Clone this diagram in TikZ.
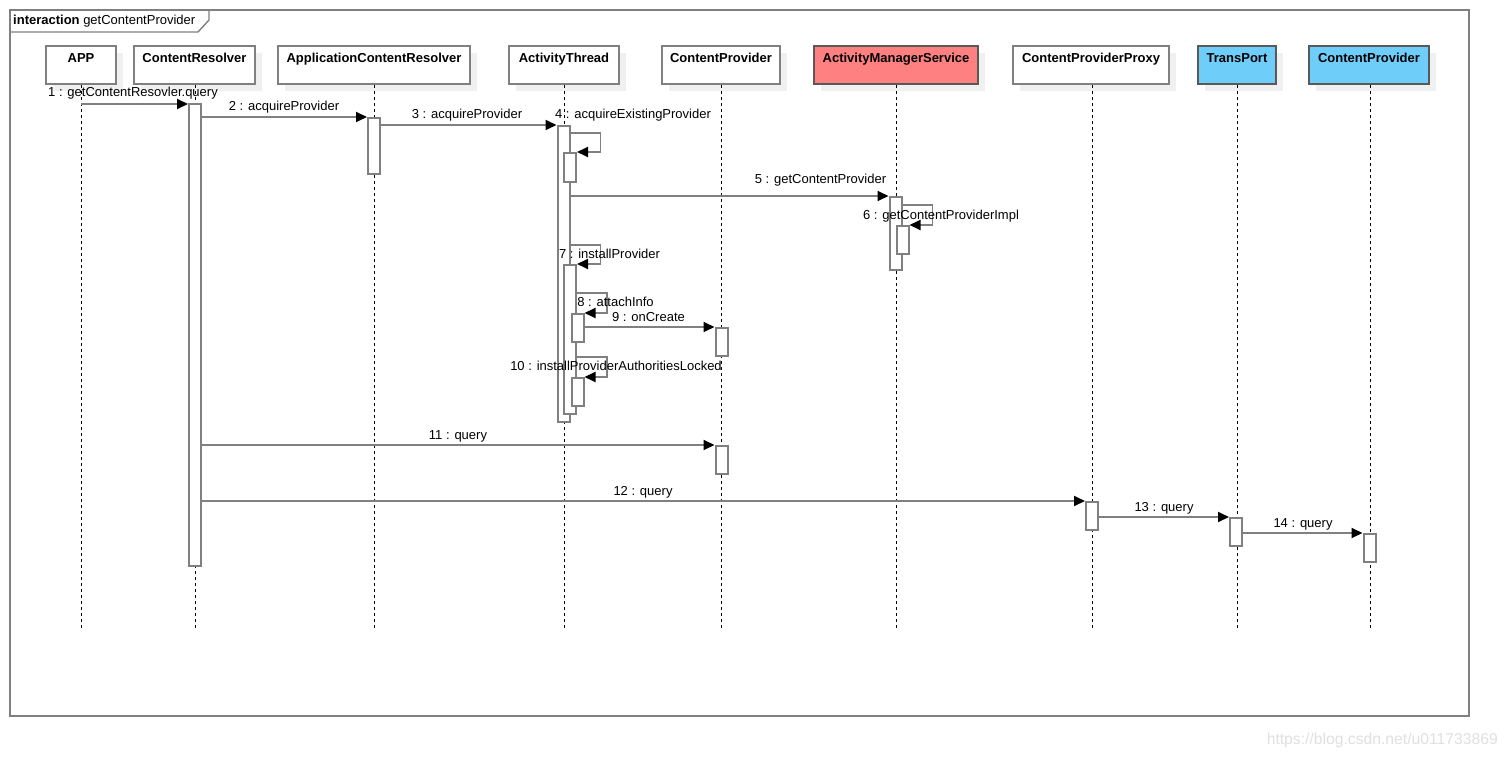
\documentclass[tikz,border=0pt]{standalone}
\usepackage{fontspec}
\setmainfont{Liberation Sans}
\usetikzlibrary{arrows.meta,shadows}
\definecolor{amsred}{RGB}{255,128,128}
\definecolor{skyb}{RGB}{111,205,250}
\definecolor{lgray}{RGB}{128,128,128}
\begin{document}
\begin{tikzpicture}[x=1pt,y=-1pt,
  font=\fontsize{13}{15}\selectfont,
  obj/.style={draw=lgray, line width=2pt, fill=white, anchor=north,
    font=\fontsize{13}{15}\selectfont\bfseries,
    inner xsep=0pt, inner ysep=0pt, text height=17pt, text depth=21pt,
    minimum height=38pt,
    drop shadow={shadow xshift=7pt, shadow yshift=-7pt, fill=black!6, opacity=1}},
  objc/.style={obj, draw=black!65},
  life/.style={draw=black, line width=0.9pt, dash pattern=on 3pt off 3pt},
  act/.style={draw=lgray, line width=2pt, fill=white, anchor=north,
    minimum width=12pt, inner sep=0pt},
  msg/.style={draw=lgray, line width=1.8pt,
    -{Triangle[length=11pt,width=10pt,color=black]}},
  lbl/.style={anchor=base, inner sep=0pt, font=\fontsize{13}{15}\selectfont}
]
\useasboundingbox (0,0) rectangle (1509,757);
\fill[white] (0,0) rectangle (1509,757);

% frame
\draw[lgray, line width=2pt] (10,10) rectangle (1469,716);
\draw[lgray, line width=1.4pt] (10,10) -- (209,10) -- (209,20) -- (198,32) -- (10,32);
\node[anchor=base west, inner sep=0pt] (frm) at (13,25) {\textbf{interaction} getContentProvider};

% objects
\node[obj, minimum width=70pt] (app) at (81,45) {APP};
\node[obj, minimum width=121pt] (cr) at (194.5,45) {ContentResolver};
\node[obj, minimum width=192pt] (acr) at (374,45) {ApplicationContentResolver};
\node[obj, minimum width=110pt] (at) at (564,45) {ActivityThread};
\node[obj, minimum width=118pt] (cp) at (721,45) {ContentProvider};
\node[objc, fill=amsred, minimum width=164pt] (ams) at (896,45) {ActivityManagerService};
\node[obj, minimum width=156pt] (cpp) at (1091,45) {ContentProviderProxy};
\node[objc, fill=skyb, minimum width=78pt] (tp) at (1237,45) {TransPort};
\node[objc, fill=skyb, minimum width=120pt] (cpb) at (1369,45) {ContentProvider};

% lifelines
\foreach \n/\x in {app/81, cr/195, acr/374, at/564, cp/721, ams/896, cpp/1092, tp/1237, cpb/1370} {
  \coordinate (\n E) at (\x,628);
  \draw[life] (\n.south -| \n E) -- (\n E);
}

% activations
\node[act, minimum height=462pt] (cra) at (195,103) {};
\node[act, minimum height=56pt] (acra) at (374,117) {};
\node[act, minimum height=296pt] (atm) at (563.5,125) {};
\node[act, minimum height=29pt] (at4) at (570,152) {};
\node[act, minimum height=73pt] (amsa) at (895.5,196) {};
\node[act, minimum height=28pt] (ams6) at (902.5,225) {};
\node[act, minimum height=149pt] (at7) at (570,264) {};
\node[act, minimum height=28pt] (at8) at (577.5,313) {};
\node[act, minimum height=28pt] (cp9) at (721.5,327) {};
\node[act, minimum height=28pt] (at10) at (577.5,377) {};
\node[act, minimum height=28pt] (cp11) at (721.5,445) {};
\node[act, minimum height=28pt] (cppa) at (1092,501) {};
\node[act, minimum height=28pt] (tpa) at (1236,517) {};
\node[act, minimum height=28pt] (cpba) at (1369.5,533) {};

% messages
\draw[msg] (app.south |- 0,104) -- (cra.north west |- 0,104);
\draw[msg] (cra.east |- acra.north) -- (acra.north west);
\draw[msg] (acra.east |- atm.north) -- (atm.north west);
\draw[msg] (atm.east |- 0,133) -- ++(30,0) |- (at4.north east);
\draw[msg] (atm.east |- amsa.north) -- (amsa.north west);
\draw[msg] (amsa.east |- 0,205) -- ++(30,0) |- (ams6.north east);
\draw[msg] (atm.east |- 0,245) -- ++(30,0) |- (at7.north east);
\draw[msg] (at7.east |- 0,293) -- ++(30,0) |- (at8.north east);
\draw[msg] (at8.east |- cp9.north) -- (cp9.north west);
\draw[msg] (at7.east |- 0,357) -- ++(30,0) |- (at10.north east);
\draw[msg] (cra.east |- cp11.north) -- (cp11.north west);
\draw[msg] (cra.east |- cppa.north) -- (cppa.north west);
\draw[msg] (cppa.east |- tpa.north) -- (tpa.north west);
\draw[msg] (tpa.east |- cpba.north) -- (cpba.north west);

% labels
\node[lbl] (l1) at (133,97) {1 : getContentResovler.query};
\node[lbl] (l2) at (284,111) {2 : acquireProvider};
\node[lbl] (l3) at (467,119) {3 : acquireProvider};
\node[lbl] (l4) at (633,119) {4 : acquireExistingProvider};
\node[lbl] (l5) at (820.5,183) {5 : getContentProvider};
\node[lbl] (l6) at (941,219) {6 : getContentProviderImpl};
\node[lbl] (l7) at (609.5,258) {7 : installProvider};
\node[lbl] (l8) at (615.5,306) {8 : attachInfo};
\node[lbl] (l9) at (648.5,321) {9 : onCreate};
\node[lbl] (l10) at (616,370) {10 : installProviderAuthoritiesLocked};
\node[lbl] (l11) at (458,439) {11 : query};
\node[lbl] (l12) at (643,495) {12 : query};
\node[lbl] (l13) at (1164,511) {13 : query};
\node[lbl] (l14) at (1303,527) {14 : query};

% watermark
\node[anchor=base east, inner sep=0pt, text=black!12, font=\fontsize{15.7}{18}\selectfont] (wm) at (1498,744) {https://blog.csdn.net/u011733869};
\end{tikzpicture}
\end{document}
